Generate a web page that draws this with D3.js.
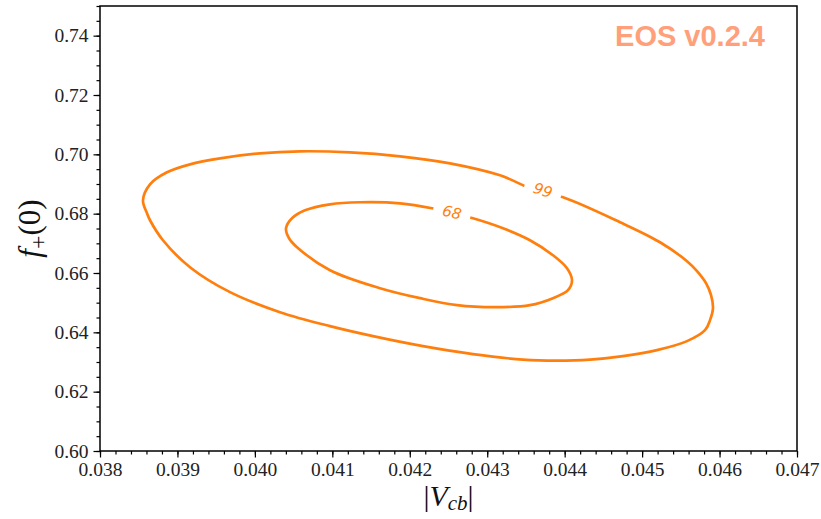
<!DOCTYPE html>
<html>
<head>
<meta charset="utf-8">
<script src="https://cdn.jsdelivr.net/npm/d3@7"></script>
<style>
  body { margin: 0; background: #fff; }
  svg { display: block; }
</style>
</head>
<body>
<svg id="chart" width="821" height="519"></svg>
<script>
// Credible regions of (|V_cb|, f_+(0)), contour levels in percent
const levels = [68, 99];

// 99% contour, closed, ordered clockwise from the leftmost point
const contour99 = [
  [0.038555, 0.68451], [0.038607, 0.68013], [0.038646, 0.67778], [0.038813, 0.67104],
  [0.039162, 0.66195], [0.039679, 0.65354], [0.040324, 0.64680], [0.040970, 0.64209],
  [0.041525, 0.63872], [0.042171, 0.63535], [0.042816, 0.63266], [0.043462, 0.63081],
  [0.043901, 0.63047], [0.044327, 0.63081], [0.044753, 0.63199], [0.045192, 0.63401],
  [0.045580, 0.63704], [0.045812, 0.64074], [0.045877, 0.64411], [0.045915, 0.64815],
  [0.045890, 0.65253], [0.045825, 0.65657], [0.045709, 0.66061], [0.045580, 0.66397],
  [0.045231, 0.67037], [0.044715, 0.67710], [0.043979, 0.68552],
  [0.043617, 0.68788], [0.043165, 0.69293], [0.042519, 0.69697], [0.041874, 0.69933],
  [0.041228, 0.70067], [0.040582, 0.70101], [0.040066, 0.70034], [0.039550, 0.69865],
  [0.039162, 0.69663], [0.038865, 0.69394], [0.038646, 0.68990]
];

// 68% contour, closed, ordered clockwise from the leftmost point
const contour68 = [
  [0.040402, 0.67508], [0.040441, 0.67172], [0.040544, 0.66869], [0.040970, 0.66094],
  [0.041616, 0.65488], [0.042132, 0.65152], [0.042610, 0.64916], [0.043126, 0.64848],
  [0.043552, 0.64916], [0.043849, 0.65152], [0.044043, 0.65421], [0.044095, 0.65758],
  [0.044030, 0.66162], [0.043849, 0.66599], [0.043552, 0.67104], [0.043204, 0.67508],
  [0.042816, 0.67845], [0.042545, 0.68020], [0.042287, 0.68182], [0.041874, 0.68350],
  [0.041357, 0.68384], [0.040970, 0.68316], [0.040647, 0.68114], [0.040479, 0.67845]
];

// Inline label anchors for each contour: [x, y, rotation in degrees]
const labelAnchors = [
  [0.042545, 0.68047, 13],
  [0.043720, 0.68788, 18]
];

const xTicks = [0.038, 0.039, 0.040, 0.041, 0.042, 0.043, 0.044, 0.045, 0.046, 0.047];
const yTicks = [0.60, 0.62, 0.64, 0.66, 0.68, 0.70, 0.72, 0.74];
const xDomain = [0.038, 0.047];
const yDomain = [0.60, 0.75];

const margin = { left: 100, right: 24, top: 6, bottom: 68 };
const W = 821, H = 519;
const svg = d3.select("#chart");
const color = "#ff7f0e";
const serif = "'Liberation Serif', 'DejaVu Serif', serif";

const x = d3.scaleLinear().domain(xDomain).range([margin.left, W - margin.right]);
const y = d3.scaleLinear().domain(yDomain).range([H - margin.bottom, margin.top]);

// minor ticks
const xMinor = d3.range(0, 46).map(i => 0.038 + i * 0.0002);
const yMinor = d3.range(0, 31).map(i => 0.60 + i * 0.005);

const gx = svg.append("g").attr("transform", `translate(0,${y.range()[0]})`);
gx.call(d3.axisBottom(x).tickValues(xMinor).tickSize(3.5).tickFormat(""));
gx.call(g => g.selectAll(".domain").remove());
const gxMajor = svg.append("g").attr("transform", `translate(0,${y.range()[0]})`)
  .call(d3.axisBottom(x).tickValues(xTicks).tickSize(6.5).tickPadding(5).tickFormat(d3.format(".3f")));
gxMajor.select(".domain").remove();

const gy = svg.append("g").attr("transform", `translate(${x.range()[0]},0)`);
gy.call(d3.axisLeft(y).tickValues(yMinor).tickSize(3.5).tickFormat(""));
gy.call(g => g.selectAll(".domain").remove());
const gyMajor = svg.append("g").attr("transform", `translate(${x.range()[0]},0)`)
  .call(d3.axisLeft(y).tickValues(yTicks).tickSize(6.5).tickPadding(5).tickFormat(d3.format(".2f")));
gyMajor.select(".domain").remove();

svg.selectAll(".tick line").attr("stroke", "#000").attr("stroke-width", 1.2);
svg.selectAll(".tick text").attr("font-family", serif).attr("font-size", 19.5).attr("fill", "#222");

// contours
const line = d3.line().x(d => x(d[0])).y(d => y(d[1])).curve(d3.curveCatmullRomClosed.alpha(0.5));
const contours = [contour68, contour99];
svg.append("g").selectAll("path").data(contours).join("path")
  .attr("d", line)
  .attr("fill", "none")
  .attr("stroke", color)
  .attr("stroke-width", 2.7);

// contour labels with the line broken beneath them
const lab = svg.append("g").selectAll("g").data(levels).join("g")
  .attr("transform", (d, i) => `translate(${x(labelAnchors[i][0])},${y(labelAnchors[i][1])}) rotate(${labelAnchors[i][2]})`);
lab.append("rect").attr("x", -19).attr("y", -12).attr("width", 38).attr("height", 24).attr("fill", "#fff");
lab.append("text")
  .attr("text-anchor", "middle").attr("dy", "0.35em")
  .attr("font-family", "'DejaVu Sans', sans-serif").attr("font-style", "italic")
  .attr("font-size", 15).attr("fill", color)
  .text(d => d);

// frame
svg.append("rect")
  .attr("x", x.range()[0]).attr("y", y.range()[1])
  .attr("width", x.range()[1] - x.range()[0]).attr("height", y.range()[0] - y.range()[1])
  .attr("fill", "none").attr("stroke", "#000").attr("stroke-width", 1.5);

// watermark
svg.append("text")
  .attr("x", 765).attr("y", 46).attr("text-anchor", "end")
  .attr("font-family", "'Liberation Sans', Arial, sans-serif").attr("font-weight", "bold")
  .attr("font-size", 29).attr("fill", "#ffa07a")
  .text("EOS v0.2.4");

// axis titles
const xt = svg.append("text")
  .attr("x", (x.range()[0] + x.range()[1]) / 2).attr("y", 506).attr("text-anchor", "middle")
  .attr("font-family", serif).attr("font-size", 30).attr("fill", "#111");
xt.append("tspan").text("|");
xt.append("tspan").attr("font-style", "italic").text("V");
xt.append("tspan").attr("font-style", "italic").attr("font-size", 21).attr("dy", 4).text("cb");
xt.append("tspan").attr("dy", -4).text("|");

const yt = svg.append("text")
  .attr("transform", `translate(40,${(y.range()[0] + y.range()[1]) / 2}) rotate(-90)`)
  .attr("text-anchor", "middle")
  .attr("font-family", serif).attr("font-size", 31).attr("fill", "#111");
yt.append("tspan").attr("font-style", "italic").text("f");
yt.append("tspan").attr("font-size", 24).attr("dy", 6).text("+");
yt.append("tspan").attr("dy", -6).text("(0)");
</script>
</body>
</html>
